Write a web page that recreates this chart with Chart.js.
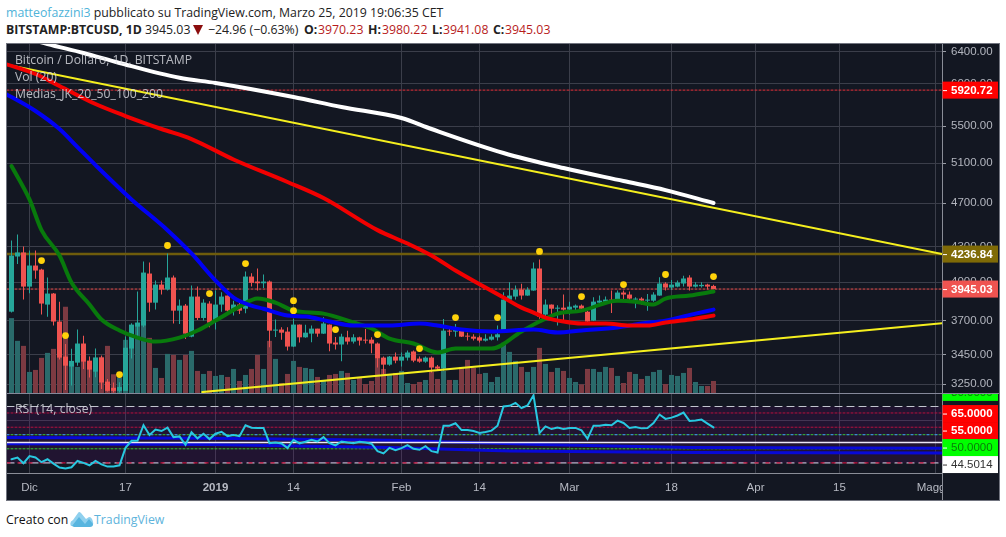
<!DOCTYPE html>
<html><head><meta charset="utf-8">
<script src="https://cdn.jsdelivr.net/npm/chart.js@4/dist/chart.umd.min.js"></script>
<style>
html,body{margin:0;padding:0;background:#fff;width:1006px;height:537px;overflow:hidden}
body{position:relative;font-family:"Open Sans",sans-serif;}
canvas{position:absolute;background:#131722}
.t{position:absolute;white-space:nowrap;font-size:12.3px;line-height:16px;color:#222}
.b{font-weight:700}.r{color:#b71c1c}
.p{position:absolute;left:15px;white-space:nowrap;font-size:12.2px;line-height:16px;color:rgba(222,224,230,.8);z-index:3}
#frame{position:absolute;left:6px;top:43px;width:992px;height:456px;border:1px solid #71747f;z-index:2;pointer-events:none}
</style></head><body>
<div class="t" style="left:6px;top:5px"><span style="color:#4fb3d9">matteofazzini3</span> pubblicato su TradingView.com, Marzo 25, 2019 19:06:35 CET</div>
<div class="t b" style="left:6px;top:22px">BITSTAMP:BTCUSD, 1D</div>
<div class="t" style="left:145px;top:22px">3945.03</div>
<svg style="position:absolute;left:193px;top:25px" width="11" height="11"><polygon points="0,0 10,0 5,10" fill="#8b0d0d"/></svg>
<div class="t" style="left:208px;top:22px">−24.96 (−0.63%)</div>
<div class="t b" style="left:304px;top:22px">O:</div><div class="t r" style="left:318px;top:22px">3970.23</div>
<div class="t b" style="left:368px;top:22px">H:</div><div class="t r" style="left:382px;top:22px">3980.22</div>
<div class="t b" style="left:432px;top:22px">L:</div><div class="t r" style="left:443px;top:22px">3941.08</div>
<div class="t b" style="left:493px;top:22px">C:</div><div class="t r" style="left:505px;top:22px">3945.03</div>
<canvas id="price" width="992" height="349" style="left:7px;top:44px;width:992px;height:349px"></canvas>
<canvas id="rsi" width="992" height="107" style="left:7px;top:393px;width:992px;height:107px"></canvas>
<div id="frame"></div>
<div class="p" style="top:52px">Bitcoin / Dollaro, 1D, BITSTAMP</div>
<div class="p" style="top:69px">Vol (20)</div>
<div class="p" style="top:86px">Medias_JK_20_50_100_200</div>
<div class="p" style="top:401px">RSI (14, close)</div>
<div class="t" style="left:6px;top:512px;color:#111">Creato con</div>
<svg style="position:absolute;left:70px;top:511px" width="24" height="17" viewBox="0 0 24 17"><path d="M1 15 Q-1 11 3 9 L8 2 Q9 0 11 2 L16 8 L19 6 Q22 6 23 11 Q24 15 20 15 Z" fill="#8fd0ee"/><path d="M2 15 L9 6 L15 13 L19 8 L23 13 Q23 16 20 16 L4 16 Z" fill="#58b5df"/></svg>
<div class="t" style="left:94px;top:512px;color:#5eb4dc">TradingView</div>
<script>
const firstDay = -3;
const opens = [3767,4216,4251,3965,4139,4105,3822,3909,3692,3437,3368,3395,3530,3409,3333,3430,3266,3225,3205,3205,3494,3654,3662,4072,3837,3981,3941,4039,3775,3814,3580,3885,3719,3830,3699,3822,3893,3775,3822,3790,4047,4006,3992,4006,3624,3632,3617,3508,3669,3575,3602,3639,3602,3669,3537,3523,3575,3544,3575,3558,3558,3530,3430,3381,3437,3409,3430,3473,3423,3402,3430,3368,3354,3624,3617,3624,3587,3580,3575,3551,3558,3575,3624,3861,3885,3941,3893,3933,4114,3745,3822,3790,3798,3783,3798,3814,3767,3699,3837,3845,3861,3861,3917,3901,3861,3869,3853,3853,3893,3990,3957,3965,3990,4039,3965,3968,3981,3970.23];
const highs = [4356,4410,4303,4268,4268,4111,4039,3914,3845,3527,3492,3632,3586,3437,3494,3445,3284,3260,3262,3581,3679,3925,4173,4164,4014,4014,4242,4056,3861,3827,3974,3965,3864,3848,3933,3920,3893,3853,3848,4089,4075,4114,4064,4014,3707,3649,3649,3712,3669,3667,3662,3639,3724,3669,3577,3602,3624,3597,3580,3637,3575,3537,3437,3442,3466,3466,3480,3480,3437,3437,3437,3379,3712,3637,3674,3632,3609,3597,3587,3597,3597,3662,3920,4000,3974,3987,3960,4164,4190,3861,3822,3817,3901,3845,3822,3822,3775,3880,3893,3885,3933,3933,3933,3925,3880,3880,3906,3920,4042,4000,4019,4014,4053,4058,4000,4000,3987,3980.22];
const lows = [3760,4153,3861,3912,4028,3745,3729,3662,3416,3210,3240,3374,3352,3293,3295,3217,3200,3195,3195,3215,3423,3577,3649,3767,3783,3901,3933,3677,3674,3563,3575,3704,3699,3649,3632,3767,3762,3737,3750,3755,3965,3933,3954,3504,3577,3558,3480,3505,3537,3572,3539,3580,3600,3475,3487,3404,3523,3530,3516,3530,3461,3361,3318,3374,3390,3368,3409,3397,3395,3395,3327,3340,3340,3587,3580,3578,3551,3551,3537,3544,3551,3551,3622,3859,3861,3861,3891,3931,3714,3714,3752,3662,3699,3745,3775,3767,3690,3697,3814,3822,3757,3853,3866,3848,3793,3822,3775,3845,3891,3933,3938,3960,3965,3933,3957,3957,3941,3941.08];
const closes = [4224,4251,3965,4139,4097,3830,3909,3692,3430,3374,3407,3530,3402,3347,3430,3260,3205,3205,3230,3500,3669,3684,4080,3837,3981,3941,4039,3775,3814,3602,3885,3719,3837,3684,3822,3885,3775,3822,3775,4047,3995,3992,4006,3624,3632,3609,3508,3669,3575,3609,3639,3602,3677,3530,3523,3580,3544,3575,3551,3551,3530,3423,3381,3437,3409,3437,3466,3409,3402,3430,3361,3354,3624,3617,3632,3580,3580,3565,3551,3565,3580,3597,3861,3893,3941,3893,3941,4114,3729,3822,3790,3798,3783,3806,3814,3790,3692,3845,3853,3861,3845,3917,3901,3869,3869,3853,3861,3901,3990,3957,3981,3998,4031,3965,3981,3979,3965,3945.03];
const volumes = [11200,7800,7050,3150,3450,5250,6000,6600,7800,12900,4700,3900,4800,3900,5300,5400,7050,2800,2300,7950,10050,10500,10300,8250,3750,2250,5850,5700,4950,5700,6300,3300,2850,3300,2550,2700,2400,3600,1800,2700,3600,5700,3600,7800,5100,1500,2850,4800,3900,3750,3600,2400,1950,2700,2850,3300,3000,1950,2250,1350,1800,5100,3600,2700,3000,3300,1500,1350,1650,1950,3150,2100,3300,1950,1950,3900,4950,3750,2850,3000,1650,2400,7500,6150,4800,3900,3150,3900,6750,4350,3150,3750,3300,2250,1650,1300,3600,3600,3150,3900,3750,2550,1500,3150,2850,2100,2550,3150,3450,1350,2700,2550,3000,3750,1650,1050,1050,1800];
const rsiValues = [32.6,33.8,29.8,34.8,33.8,30.5,32.6,29.5,26.7,26,26.9,31.4,30,28.3,31.4,29,27.4,27.4,28.3,40.7,45.7,45.7,56.7,49.8,53.6,52.6,55,48.3,48.8,42.9,51.7,47.4,50.7,46.9,50.7,52.1,49,49.8,49,56.7,55,54.8,54.8,44,44.5,43.8,40.5,46.4,43.8,45,46.4,45.2,48.3,44,42.4,45.2,44.5,44,45,44.5,43.6,38.3,36.7,40.7,39,40.5,42.6,40,39.3,41.9,38.3,37.4,56.4,56.4,58.1,53.3,53.3,52.6,51.2,51.9,52.9,56.4,70,70.5,72.6,68.8,70.7,77.9,51.2,55.9,54,55,54,54.8,54.8,53.1,47.1,56.4,56.4,57.1,56.7,60,58.3,54.8,55.5,54.5,54.8,58.3,64.3,61.2,62.1,63.6,65.7,59.8,60,60.7,57.9,55.2];

const ma200Days = [-4,3,9,15,25,31,44,52,62,67,79,89,99,106,114];
const ma200 = [6660,6505,6387,6258,6071,6008,5838,5720,5593,5469,5208,5050,4918,4828,4702];
const ma100Days = [-4,1,5,11,16,22,27,34,43,49,58,63,67,71,76,79,82,84,86,89,92,96,100,103,106,110,114];
const ma100 = [6245,6119,5971,5755,5616,5469,5358,5139,4908,4750,4449,4329,4224,4097,3957,3877,3798,3760,3722,3692,3677,3677,3662,3662,3685,3707,3737];
const ma50Days = [-4,-3,1,5,8,11,17,23,27,31,34,37,39,43,46,50,54,60,65,68,72,77,84,88,92,98,102,106,111,114];
const ma50 = [5874,5838,5674,5469,5271,5081,4737,4449,4242,4014,3877,3814,3790,3737,3730,3692,3662,3662,3677,3662,3632,3618,3632,3610,3625,3647,3677,3699,3752,3783];
const ma20Days = [-3,0,2,5,7,10,12,15,18,21,25,28,31,35,38,41,44,49,54,57,60,64,68,71,77,82,85,88,92,98,101,104,106,110,114];
const ma20 = [5071,4737,4449,4224,3998,3822,3707,3625,3573,3544,3573,3625,3699,3806,3869,3837,3775,3752,3685,3640,3566,3530,3466,3494,3494,3618,3692,3752,3775,3853,3845,3822,3869,3893,3925];

const signalDays = [2,6,15,23,30,36,44,44,51,58,65,71,78,85,92,99,106,114];
const signalPrices = [4181,3588,3313,4312,3909,4156,3853,3775,3632,3595,3494,3722,3722,4260,3885,3981,4064,4047];

const upperTrendDays = [-3.75,152.08];
const upperTrend = [6235,4236.84];
const lowerTrendDays = [28.8,152.08];
const lowerTrend = [3197,3680];

const rsiBlueADays = [-4,30,60,85,110,153];
const rsiBlueA = [48,47.5,46,43,41,40.4];
const rsiBlueBDays = [-4,30,60,80,110,153];
const rsiBlueB = [43.6,43,41,38.5,37.3,37];

const priceTicks = [6400,6000,5500,5100,4700,4300,4000,3700,3450,3250];
const tickDays = [0,16,31,44,62,75,90,107,121,135,151];
const tickLabels = ['Dic','17','2019','14','Feb','14','Mar','18','Apr','15','Maggio'];
const resistance = 5920.72, supportLine = 4236.84, lastClose = 3945.03;
const rsiWhite = 44.5014;

const priceTags = [
 {value:resistance,text:'5920.72',bg:'#ff0000',fg:'#fff'},
 {value:supportLine,text:'4236.84',bg:'#7f6a06',fg:'#fff'},
 {value:lastClose,text:'3945.03',bg:'#ef5350',fg:'#fff'}];
const rsiTags = [
 {value:80,text:'80.0000',bg:'#00ff00',fg:'#0b7a0b'},
 {value:65,text:'65.0000',bg:'#ff0000',fg:'#fff'},
 {value:55,text:'55.0000',bg:'#ff0000',fg:'#fff'},
 {value:50,text:'50.0000',bg:'#00ff00',fg:'#0b7a0b'},
 {value:rsiWhite,text:'44.5014',bg:'#ffffff',fg:'#333'}];

const xMin=-3.75, xMax=152.08;
const TEAL='#26a69a', RED='#ef5350', VTEAL='#2a6a6b', VRED='#7c3a42';
const GRID='#3b3e4a', AXIS='#8a8d97', TXT='#b2b5be';
const FONT='"Liberation Sans",Arial,sans-serif';
const days = opens.map((_,i)=>firstDay+i);
const up = opens.map((o,i)=>closes[i]>=o);
const pts=(xs,ys)=>xs.map((x,i)=>({x,y:ys[i]}));
const level=(v)=>[{x:xMin,y:v},{x:xMax,y:v}];
const line=(data,color,width,order,yAxisID,extra)=>Object.assign({type:'line',data,borderColor:color,borderWidth:width,pointRadius:0,tension:0,fill:false,order,yAxisID,borderJoinStyle:'round',borderCapStyle:'round'},extra||{});
const smooth={cubicInterpolationMode:'monotone'};

const tagPlugin = {
 id:'tags',
 afterDraw(chart,args,opts){
  const c=chart.ctx, a=chart.chartArea, sc=chart.scales[opts.axis];
  c.save();
  // cover anything of the time axis that runs into the price column
  c.fillStyle='#131722'; c.fillRect(a.right,a.bottom+1,chart.width-a.right,chart.height-a.bottom);
  c.strokeStyle=AXIS;c.lineWidth=1;c.beginPath();c.moveTo(a.right+.5,0);c.lineTo(a.right+.5,chart.height);c.stroke();
  let prev=-1e9;
  c.textBaseline='middle';
  opts.tags.forEach(t=>{
   let y=sc.getPixelForValue(t.value);
   if(y<prev+17) y=prev+17; prev=y;
   c.fillStyle=t.bg;c.fillRect(a.right+.5,y-8.5,chart.width-a.right-1.5,17);
   c.font=(t.fg==='#fff'?'bold ':'')+'11.5px '+FONT;
   c.fillStyle=t.fg;c.fillText(t.text,a.right+9,y+.5);
   c.fillStyle=t.bg==='#ffffff'?'#333':'#fff';c.fillRect(a.right+1,y,4,1);
  });
  c.restore();
 }
};
const dividerPlugin={id:'divider',afterDraw(chart){const c=chart.ctx;c.save();c.fillStyle='#85889a';c.fillRect(0,0,chart.width,1);c.restore();}};

function xScale(showLabels){
 return {type:'linear',min:xMin,max:xMax,bounds:'data',offset:false,
  afterBuildTicks(s){s.ticks=tickDays.map(v=>({value:v}));},
  afterFit(s){s.height=showLabels?27:0;s.paddingLeft=0;s.paddingRight=0;},
  border:{display:showLabels,color:AXIS},
  grid:{color:GRID,lineWidth:1,drawTicks:false,offset:false},
  ticks:{display:showLabels,autoSkip:false,maxRotation:0,padding:8,color:'#b7bac3',
   font:(ctx)=>({family:FONT,size:11.5,weight:ctx.tick&&ctx.tick.value===31?'bold':'normal'}),
   callback:(v)=>tickLabels[tickDays.indexOf(v)]}};
}

new Chart(document.getElementById('price'),{
 type:'bar',
 plugins:[tagPlugin],
 data:{datasets:[
  {label:'Vol',data:pts(days,volumes),yAxisID:'v',order:30,barThickness:5,grouped:false,backgroundColor:up.map(u=>u?VTEAL:VRED),borderWidth:0,inflateAmount:0},
  line(level(resistance),'#e5303a',1,25,'y',{borderDash:[2,2]}),
  line(level(lastClose),'#ef5350',1,25,'y',{borderDash:[2,2]}),
  line(level(supportLine),'#6e5c0c',2.5,24,'y'),
  {label:'wick',data:days.map((d,i)=>({x:d,y:[lows[i],highs[i]]})),yAxisID:'y',order:20,barThickness:1,grouped:false,backgroundColor:up.map(u=>u?TEAL:RED),borderWidth:0,inflateAmount:0},
  {label:'body',data:days.map((d,i)=>({x:d,y:[opens[i],closes[i]]})),yAxisID:'y',order:19,barThickness:5,grouped:false,backgroundColor:up.map(u=>u?TEAL:RED),borderWidth:0,inflateAmount:0},
  line(pts(upperTrendDays,upperTrend),'#f5ef1e',2,12,'y'),
  line(pts(lowerTrendDays,lowerTrend),'#f5ef1e',2,12,'y'),
  line(pts(ma20Days,ma20),'#087a0c',4,9,'y',smooth),
  line(pts(ma50Days,ma50),'#0000f5',4,8,'y',smooth),
  line(pts(ma100Days,ma100),'#f20000',4,7,'y',smooth),
  line(pts(ma200Days,ma200),'#ffffff',4,6,'y',smooth),
  {type:'scatter',data:pts(signalDays,signalPrices),yAxisID:'y',order:1,pointRadius:3.4,pointBackgroundColor:'#ffd20a',pointBorderWidth:0,showLine:false}
 ]},
 options:{responsive:false,animation:false,devicePixelRatio:1,
  layout:{padding:0,autoPadding:false},
  plugins:{legend:{display:false},tooltip:{enabled:false},tags:{axis:'y',tags:priceTags}},
  scales:{
   x:xScale(false),
   v:{type:'linear',display:false,min:0,max:52200},
   y:{type:'logarithmic',position:'right',min:3191,max:6505,bounds:'data',
    afterBuildTicks(s){s.ticks=priceTicks.map(v=>({value:v}));},
    afterFit(s){s.width=57;s.paddingTop=0;s.paddingBottom=0;},
    border:{display:true,color:AXIS},
    grid:{color:GRID,tickLength:4,tickColor:'#9a9da6'},
    ticks:{autoSkip:false,padding:5,color:TXT,font:{family:FONT,size:11.5},callback:v=>Number(v).toFixed(2)}}
  }}
});

new Chart(document.getElementById('rsi'),{
 type:'line',
 plugins:[tagPlugin,dividerPlugin],
 data:{datasets:[
  line(level(70),'#c2c5cf',1.2,12,'y',{borderDash:[7,5],fill:{value:30},backgroundColor:'rgba(120,0,140,.14)'}),
  line(level(30),'#c2c5cf',1.2,12,'y',{borderDash:[7,5]}),
  line(level(30),'#c2103a',1.4,11,'y',{borderDash:[3,8]}),
  line(level(65.4),'#b5103e',1,11,'y',{borderDash:[2,2]}),
  line(level(55.3),'#b5103e',1,11,'y',{borderDash:[2,2]}),
  line(level(50),'#35c435',1,11,'y',{borderDash:[2,2]}),
  line(level(50),'#3d7dff',1,10,'y',{borderDash:[2,6]}),
  line(level(40),'#35c435',1,10,'y',{borderDash:[2,2]}),
  line(pts(rsiBlueADays,rsiBlueA),'#0808d8',3,9,'y'),
  line(pts(rsiBlueBDays,rsiBlueB),'#0808d8',3,9,'y'),
  line(level(rsiWhite),'#ece6f6',1.5,8,'y'),
  line(pts(days,rsiValues),'#28c8e0',2,2,'y',{borderJoinStyle:'miter'})
 ]},
 options:{responsive:false,animation:false,devicePixelRatio:1,
  layout:{padding:0,autoPadding:false},
  plugins:{legend:{display:false},tooltip:{enabled:false},tags:{axis:'y',tags:rsiTags}},
  scales:{
   x:xScale(true),
   y:{type:'linear',position:'right',min:22.84,max:79.57,bounds:'data',
    afterBuildTicks(s){s.ticks=[{value:60}];},
    afterFit(s){s.width=57;s.paddingTop=0;s.paddingBottom=0;},
    border:{display:true,color:AXIS},
    grid:{color:GRID,drawTicks:false},
    ticks:{display:false}}
  }}
});
</script>
</body></html>
